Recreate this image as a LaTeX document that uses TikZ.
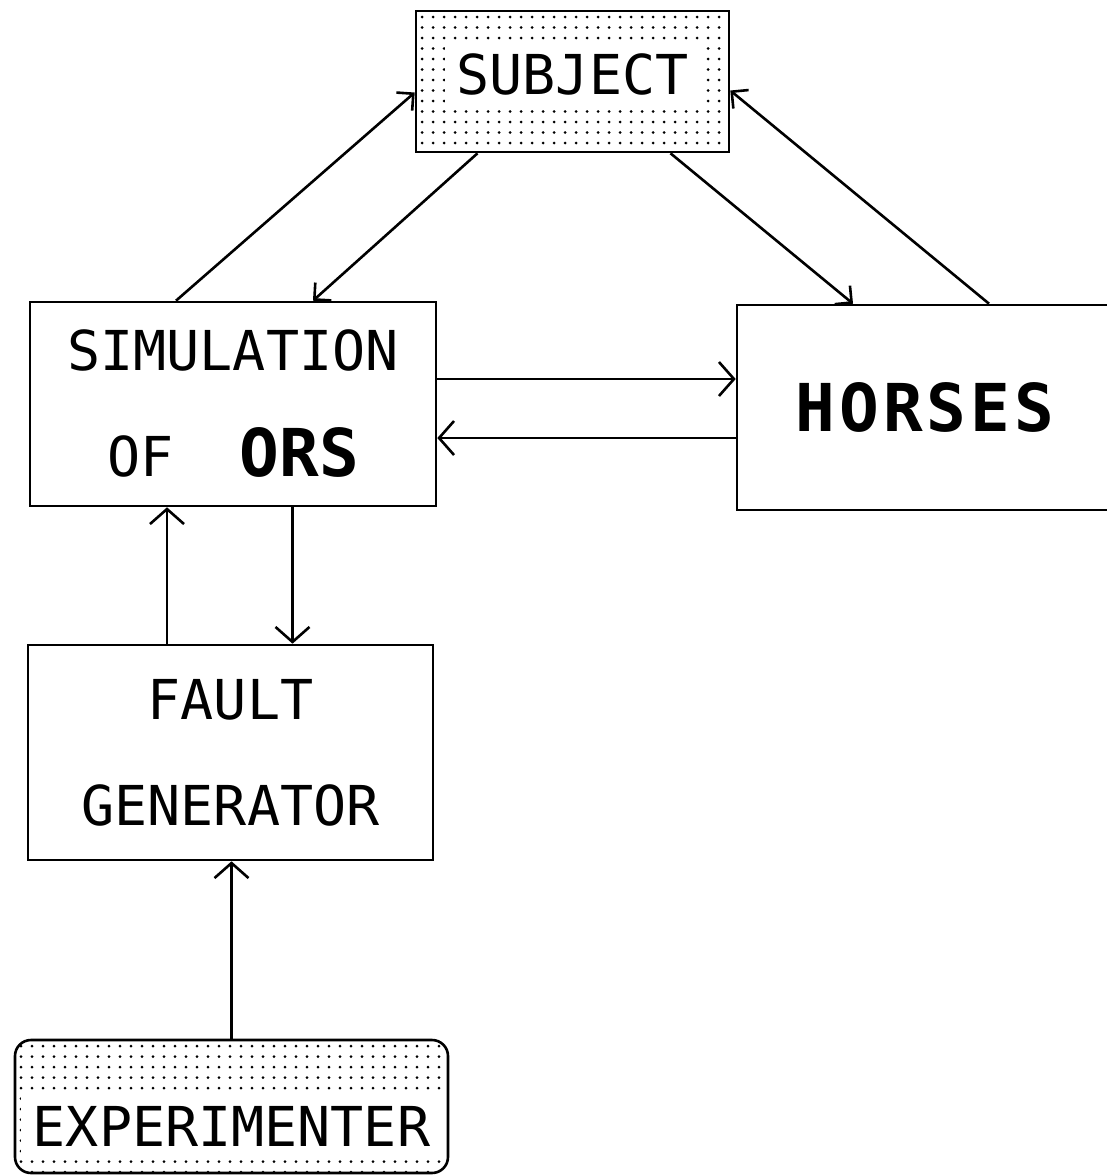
\documentclass[tikz,border=0pt]{standalone}
\usepackage{fontspec}
\usepackage{tikz}
\usetikzlibrary{arrows.meta}

\newfontfamily\plotfont{DejaVu Sans Mono}
\newcommand{\heavy}[1]{{\bfseries\fontsize{66}{106}\selectfont #1}}
\setlength{\fboxsep}{12pt}

\tikzset{
  box/.style={draw, line width=2.6pt, inner sep=0pt, align=center,
    font=\plotfont\fontsize{55}{106}\selectfont},
  dotbox/.style={box, path picture={
      \foreach \j in {0,...,14}
        \foreach \i in {0,...,41}
          \fill (path picture bounding box.north west)
            ++({\i*11pt+6pt}, {-\j*10.5pt-6pt}) circle (1.5pt);}},
  flow/.style={line width=2.6pt, -{Straight Barb[length=15pt,width=34pt]}},
  slant/.style={line width=2.6pt, -{Straight Barb[length=12pt,width=24pt]}},
}

\begin{document}
\begin{tikzpicture}[x=1pt, y=-1pt]
  \useasboundingbox (0,0) rectangle (1106,1175);

  % boxes
  \node[dotbox, minimum width=313pt, minimum height=141pt, text depth=27pt]
    (subject) at (572.5, 81.5) {\colorbox{white}{SUBJECT}};
  \node[box, minimum width=406pt, minimum height=204pt]
    (sim) at (233, 404) {SIMULATION\\OF\ \ \heavy{ORS}};
  \node[box, minimum width=376pt, minimum height=205pt]
    (horses) at (925, 407.5) {\heavy{\addfontfeature{LetterSpace=6}HORSES}};
  \node[box, minimum width=405pt, minimum height=215pt]
    (fault) at (230.5, 752.5) {FAULT\\GENERATOR};
  \node[dotbox, rounded corners=16pt, minimum width=433pt, minimum height=133pt,
    text height=92pt, text depth=12pt]
    (exper) at (231.5, 1106.5) {\colorbox{white}{EXPERIMENTER}};

  % subject <-> simulation, horses
  \draw[slant] ([xshift=-57pt]sim.north) -- ([yshift=-11pt]subject.west);
  \draw[slant] ([xshift=-95pt]subject.south) -- ([xshift=80pt]sim.north);
  \draw[slant] ([xshift=98pt]subject.south) -- ([xshift=-72pt]horses.north);
  \draw[slant] ([xshift=64pt]horses.north) -- ([yshift=-9pt]subject.east);

  % simulation <-> horses
  \draw[flow] ([yshift=25pt]sim.east) -- ([yshift=25pt]sim.east -| horses.west);
  \draw[flow] ([yshift=-34pt]sim.east -| horses.west) -- ([yshift=-34pt]sim.east);

  % simulation <-> fault generator
  \draw[flow] ([xshift=-63.5pt]fault.north) -- ([xshift=-63.5pt]fault.north |- sim.south);
  \draw[flow] ([xshift=62pt]fault.north |- sim.south) -- ([xshift=62pt]fault.north);

  % experimenter -> fault generator
  \draw[flow] (exper.north) -- (exper.north |- fault.south);
\end{tikzpicture}
\end{document}
